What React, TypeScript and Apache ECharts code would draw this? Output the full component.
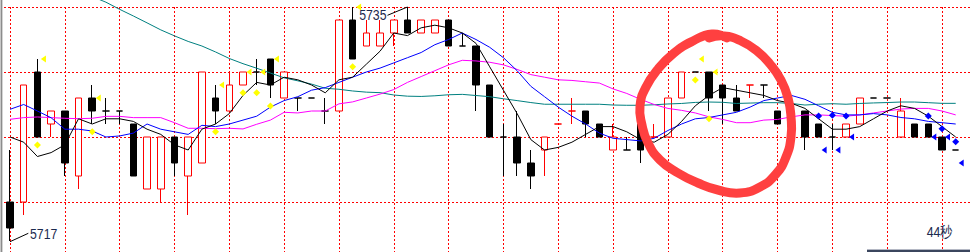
import React, { useEffect, useRef } from 'react';
import * as echarts from 'echarts';

const CATEGORIES = ['0','1','2','3','4','5','6','7','8','9','10','11','12','13','14','15','16','17','18','19','20','21','22','23','24','25','26','27','28','29','30','31','32','33','34','35','36','37','38','39','40','41','42','43','44','45','46','47','48','49','50','51','52','53','54','55','56','57','58','59','60','61','62','63','64','65','66','67','68','69','70'];

const OPEN = [5720,5720,5730,5726,5727,5722,5728,5727,5727,5726, 5721,5721,5725,5722,5723,5728,5727,5729,5730,5731, 5728,5728,5728,5727,5727,5734,5732,5732,5733,5734, 5733,5733,5734,5732,5732,5729,5725,5725,5723,5724, 5726,5727,5727,5726,5724,5724,5726,5725,5725,5728, 5730,5730,5729,5728,5729,5729,5727,5726,5727,5726, 5725,5725,5726,5728,5728,5725,5726,5726,5725,5724];
const CLOSE = [5718,5729,5725,5727,5723,5728,5727,5727,5727,5722, 5725,5725,5723,5725,5730,5727,5729,5730,5730,5729, 5730,5728,5728,5727,5734,5731,5733,5733,5734,5733, 5734,5734,5732,5732,5729,5725,5725,5723,5722,5725, 5726,5727,5726,5725,5725,5724,5724,5725,5728,5730, 5730,5728,5728,5727,5729,5729,5726,5727,5725,5725, 5725,5726,5728,5728,5728,5727,5725,5725,5724,5724];
const LOW = [5717,5719,5725,5725,5722,5721,5726,5726,5726,5722, 5721,5720,5722,5719,5723,5726,5727,5729,5729,5728, 5728,5727,5728,5726,5727,5731,5732,5732,5732,5733, 5733,5733,5732,5732,5727,5725,5722,5722,5721,5722, 5726,5726,5725,5725,5724,5724,5723,5725,5725,5728, 5730,5727,5726,5727,5728,5728,5726,5726,5724,5725, 5724,5725,5726,5728,5728,5725,5725,5725,5724,5724];
const HIGH = [5724,5729,5731,5727,5727,5728,5729,5728,5727,5726, 5725,5725,5725,5725,5730,5729,5730,5730,5731,5731, 5730,5728,5728,5728,5734,5735,5734,5734,5734,5735, 5734,5734,5734,5733,5732,5729,5726,5727,5724,5725, 5726,5728,5727,5726,5726,5725,5726,5726,5728,5730, 5730,5730,5729,5729,5729,5729,5727,5727,5727,5726, 5726,5726,5728,5728,5728,5728,5726,5726,5725,5724];
const RED_DOJI = [40, 41, 47, 54];

const MA5 = [5725.0,5724.6,5723.5,5723.8,5724.4,5726.4,5726.0,5726.4,5726.4,5726.2, 5725.6,5725.2,5724.4,5724.0,5725.6,5726.0,5726.8,5728.2,5729.2,5729.0, 5729.6,5729.4,5729.0,5728.4,5729.4,5729.6,5730.6,5731.6,5733.0,5732.8, 5733.4,5733.6,5733.4,5733.0,5732.2,5730.4,5728.6,5726.8,5724.8,5724.0, 5724.2,5724.6,5725.2,5725.8,5725.8,5725.4,5724.8,5724.6,5725.2,5726.2, 5727.4,5728.2,5728.8,5728.6,5728.4,5728.2,5727.8,5727.6,5727.2,5726.4, 5725.6,5725.6,5725.8,5726.4,5727.0,5727.4,5727.2,5726.6,5725.8,5725.0];
const MA10 = [5727.13,5727.5,5727.0,5726.48,5725.6,5725.6,5725.46,5725.0,5725.08,5725.3, 5726.0,5725.6,5725.4,5725.2,5725.9,5725.8,5726.0,5726.3,5726.6,5727.3, 5727.8,5728.1,5728.6,5728.8,5729.2,5729.6,5730.0,5730.3,5730.7,5731.1, 5731.5,5732.1,5732.5,5733.0,5732.5,5731.9,5731.1,5730.1,5728.9,5728.1, 5727.3,5726.6,5726.0,5725.3,5724.9,5724.8,5724.7,5724.9,5725.5,5726.0, 5726.4,5726.5,5726.7,5726.9,5727.3,5727.8,5728.0,5728.2,5727.9,5727.4, 5726.9,5726.7,5726.7,5726.8,5726.7,5726.5,5726.4,5726.2,5726.1,5726.0];
const MA20 = [5726.36,5726.49,5726.54,5726.49,5726.44,5726.41,5726.44,5726.59,5726.59,5726.49, 5726.49,5726.49,5726.1,5725.67,5725.67,5725.64,5725.67,5725.62,5725.98,5726.3, 5726.9,5726.85,5727.0,5727.0,5727.55,5727.7,5728.0,5728.3,5728.65,5729.2, 5729.65,5730.1,5730.55,5730.9,5730.85,5730.75,5730.55,5730.2,5729.8,5729.6, 5729.4,5729.35,5729.25,5729.15,5728.7,5728.35,5727.9,5727.5,5727.2,5727.05, 5726.85,5726.55,5726.35,5726.1,5726.1,5726.3,5726.35,5726.55,5726.7,5726.7, 5726.65,5726.6,5726.7,5726.85,5727.0,5727.15,5727.2,5727.2,5727.0,5726.7];
const MA60 = [5738.3,5737.9,5737.5,5737.1,5736.7,5736.25,5735.8,5735.37,5734.82,5734.31, 5733.78,5733.24,5732.78,5732.35,5732.0,5731.54,5731.04,5730.64,5730.29,5729.92, 5729.55,5729.32,5729.07,5728.75,5728.67,5728.54,5728.45,5728.41,5728.23,5728.14, 5728.12,5728.17,5728.25,5728.28,5728.19,5728.1,5727.94,5727.8,5727.65,5727.52, 5727.52,5727.52,5727.52,5727.52,5727.46,5727.44,5727.44,5727.48,5727.54,5727.58, 5727.66,5727.69,5727.67,5727.58,5727.61,5727.64,5727.64,5727.58,5727.46,5727.52, 5727.56,5727.52,5727.58,5727.62,5727.65,5727.69,5727.69,5727.64,5727.59,5727.59];

const YELLOW_DOT = [[2,5724.38],[6,5725.41],[15,5725.41],[17,5728.41],[18,5728.41],[19,5727.38],[25,5730.41],[50,5729.38],[51,5726.41]];
const YELLOW_TRI = [[2,5731],[6,5728],[15,5729],[17,5730],[18,5730],[19,5731],[25,5735],[50,5731],[51,5730]];
const BLUE_DOT = [[59,5726.62],[60,5726.67],[61,5726.62],[67,5726.62],[68,5725.64],[69,5724.64]];
const BLUE_TRI = [[59,5724],[60,5724],[61,5725],[67,5725],[68,5725],[69,5723]];

const HIGH_LABEL_INDEX = 29;
const LOW_LABEL_INDEX = 0;
const TIME_TEXT = '44秒';

const CIRCLE = [[727,38],[712,34],[693,41],[674,53],[658,69],[646,87],[640,106],[642,125],[648,143],[660,160],[678,173],[698,183],[718,190],[740,193],[760,187],[776,174],[786,157],[791,137],[791,117],[788,98],[781,80],[770,64],[757,51],[741,41],[724,36],[709,38]];

const UP = '#ff0000';
const DOWN = '#000000';
const GRID_COLOR = '#ff0000';
const TEXT_COLOR = '#1b2a4e';
const FONT = '15px "Liberation Sans", Arial, sans-serif';

export default function App() {
  const ref = useRef<HTMLDivElement>(null);
  useEffect(() => {
    document.body.style.margin = '0';
    const chart = echarts.init(ref.current as HTMLDivElement, null, { renderer: 'svg' });
    const candleData = OPEN.map((o, i) => {
      const c = CLOSE[i];
      const value = [o, c, LOW[i], HIGH[i]];
      if (o !== c) return value;
      const col = RED_DOJI.indexOf(i) >= 0 ? UP : DOWN;
      return { value, itemStyle: { color: col, color0: col, borderColor: col, borderColor0: col, borderColorDoji: col } };
    });
    const dotted = { color: GRID_COLOR, width: 1, type: [2, 2] };
    const lineSeries = (data: number[], color: string) => ({
      type: 'line', data, symbol: 'none', showSymbol: false, clip: false, silent: true,
      lineStyle: { color, width: 1 }, itemStyle: { color }, emphasis: { disabled: true }, z: 3,
    });
    const scatter = (data: number[][], color: string, tri: boolean, offset: number) => ({
      type: 'scatter', data, clip: false, silent: true,
      symbol: tri ? 'triangle' : 'diamond',
      symbolSize: tri ? [7, 5] : [7, 7],
      symbolRotate: tri ? 90 : 0,
      symbolOffset: [tri ? offset : 0, 0],
      itemStyle: { color, opacity: 1 }, emphasis: { disabled: true }, z: 4,
    });
    chart.setOption({
      animation: false,
      backgroundColor: '#ffffff',
      grid: [
        { left: 10, top: 7, width: 959.42, height: 260, outerBoundsMode: 'none', containLabel: false },
        { left: 4, right: 0, top: 7, height: 260, outerBoundsMode: 'none', containLabel: false },
      ],
      xAxis: [
        {
          type: 'category', gridIndex: 0, data: CATEGORIES, boundaryGap: false,
          axisLine: { show: false }, axisTick: { show: false }, axisLabel: { show: false },
          splitLine: { show: true, interval: 3, lineStyle: dotted },
        },
        { type: 'value', gridIndex: 1, min: 0, max: 1, show: false, splitLine: { show: false } },
      ],
      yAxis: [
        {
          type: 'value', gridIndex: 0, min: 5715, max: 5735, interval: 5,
          axisLine: { show: false }, axisTick: { show: false }, axisLabel: { show: false }, splitLine: { show: false },
        },
        {
          type: 'value', gridIndex: 1, min: 5715, max: 5735, interval: 5,
          axisLine: { show: false }, axisTick: { show: false }, axisLabel: { show: false },
          splitLine: { show: true, showMinLine: true, showMaxLine: true, lineStyle: dotted },
        },
      ],
      series: [
        {
          type: 'candlestick', data: candleData, barWidth: 7, clip: false, silent: true,
          itemStyle: { color: '#ffffff', color0: DOWN, borderColor: UP, borderColor0: DOWN, borderWidth: 1 },
          emphasis: { disabled: true }, z: 2,
        },
        lineSeries(MA60, '#008080'),
        lineSeries(MA20, '#ff00ff'),
        lineSeries(MA10, '#0000ff'),
        lineSeries(MA5, '#000000'),
        scatter(YELLOW_DOT, '#ffff00', false, 0),
        scatter(YELLOW_TRI, '#ffff00', true, 6),
        scatter(BLUE_DOT, '#0000ff', false, 0),
        scatter(BLUE_TRI, '#0000ff', true, 5.5),
      ],
    });
    const hp = chart.convertToPixel({ seriesIndex: 0 }, [HIGH_LABEL_INDEX, HIGH[HIGH_LABEL_INDEX]]) as number[];
    const lp = chart.convertToPixel({ seriesIndex: 0 }, [LOW_LABEL_INDEX, LOW[LOW_LABEL_INDEX]]) as number[];
    chart.setOption({
      graphic: [
        { type: 'rect', silent: true, z: 100, shape: { x: 0, y: 0, width: 1, height: 252 }, style: { fill: '#c8c8c8' } },
        { type: 'rect', silent: true, z: 100, shape: { x: 1, y: 0, width: 1, height: 252 }, style: { fill: '#8c8c8c' } },
        { type: 'rect', silent: true, z: 100, shape: { x: 2, y: 0, width: 1, height: 252 }, style: { fill: '#d4d4d4' } },
        { type: 'rect', silent: true, z: 100, shape: { x: 867, y: 249, width: 103, height: 1 }, style: { fill: '#b4b8c4' } },
        { type: 'rect', silent: true, z: 100, shape: { x: 867, y: 250, width: 103, height: 2 }, style: { fill: '#3b465e' } },
        { type: 'line', silent: true, z: 90, shape: { x1: hp[0] - 20, y1: hp[1] + 8.3, x2: hp[0], y2: hp[1] }, style: { stroke: '#000', lineWidth: 1 } },
        { type: 'text', silent: true, z: 90, x: hp[0] - 21, y: hp[1] + 8.5, scaleX: 0.82, style: { text: String(HIGH[HIGH_LABEL_INDEX]), align: 'right', verticalAlign: 'middle', font: FONT, fill: TEXT_COLOR } },
        { type: 'line', silent: true, z: 90, shape: { x1: lp[0], y1: lp[1] + 0.7, x2: lp[0] + 18.3, y2: lp[1] - 7.7 }, style: { stroke: '#000', lineWidth: 1 } },
        { type: 'text', silent: true, z: 90, x: lp[0] + 20, y: lp[1] - 7, scaleX: 0.82, style: { text: String(LOW[LOW_LABEL_INDEX]), align: 'left', verticalAlign: 'middle', font: FONT, fill: TEXT_COLOR } },
        { type: 'text', silent: true, z: 90, x: 953, y: 232.5, scaleX: 0.82, style: { text: TIME_TEXT, align: 'right', verticalAlign: 'middle', font: FONT, fill: TEXT_COLOR } },
        { type: 'polyline', silent: true, z: 120, shape: { points: CIRCLE, smooth: 0.5 }, style: { stroke: '#ff4040', lineWidth: 9, lineCap: 'round', lineJoin: 'round' } },
      ],
    });
    return () => chart.dispose();
  }, []);
  return <div ref={ref} style={{ position: 'fixed', left: 0, top: 0, width: 970, height: 252, background: '#ffffff' }} />;
}
